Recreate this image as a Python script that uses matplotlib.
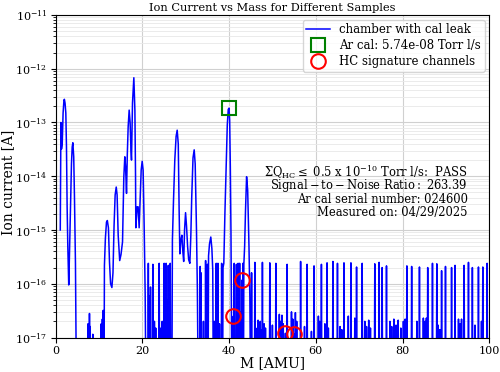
import numpy as np
import matplotlib
matplotlib.use("Agg")
import matplotlib.pyplot as plt

plt.rcParams['font.family'] = 'DejaVu Serif'
plt.rcParams['mathtext.fontset'] = 'dejavuserif'

# smooth parts of the scan: mass [AMU] and ion current [A]
peak_mass = [1.10, 1.25, 1.38, 1.55, 1.75, 1.95, 2.05, 2.20, 2.38, 2.53, 2.68, 2.84,
             3.05, 3.20, 3.45, 3.68, 3.85, 4.00, 4.20, 4.37, 4.60, 4.78,
             11.20, 11.28, 11.50, 11.75, 11.95, 12.20, 12.45, 12.70, 13.00, 13.25,
             13.50, 13.75, 14.00, 14.20, 14.45, 14.80, 15.10, 15.45, 15.75, 15.98,
             16.15, 16.37, 16.55, 16.75, 16.98, 17.20, 17.40, 17.52, 17.75, 18.06,
             18.30, 18.45, 18.52, 18.82, 19.05, 19.28, 19.50, 19.75, 19.98, 20.20,
             20.44, 20.67, 20.80,
             26.85, 26.95, 27.20, 27.50, 27.80, 28.05, 28.30, 28.50, 28.67, 28.90,
             29.13, 29.35, 29.55, 29.75, 29.98, 30.20, 30.45, 30.70, 30.97, 31.20,
             31.40, 31.70, 31.97, 32.20, 32.50, 32.70, 32.85,
             35.20, 35.28, 35.50, 35.80, 36.05, 36.25, 36.35,
             38.55, 38.62, 38.80, 39.05, 39.35, 39.60, 39.82, 40.00, 40.15, 40.30,
             40.45, 40.62,
             43.35, 43.42, 43.60, 43.80, 44.05, 44.30, 44.60, 44.80, 44.92]
peak_current = [1.0e-15, 1.0e-13, 3.2e-14, 4.0e-14, 1.5e-13, 2.6e-13, 2.7e-13, 2.3e-13,
                1.5e-13, 3.5e-14, 2.7e-15, 4.9e-16,
                9.5e-17, 3.0e-16, 2.7e-15, 1.7e-14, 3.5e-14, 4.2e-14, 2.3e-14, 4.2e-15,
                2.4e-16, 3e-18,
                3e-18, 2.2e-16, 7.0e-16, 1.4e-15, 1.5e-15, 1.1e-15, 2.5e-16, 1.0e-16,
                8.5e-17, 1.6e-16,
                1.2e-15, 4.5e-15, 6.3e-15, 4.5e-15, 8.0e-16, 2.7e-16, 3.5e-16, 6.0e-16,
                9.8e-15, 2.3e-14,
                1.5e-14, 4.8e-15, 2.5e-14, 8.3e-14, 1.7e-13, 1.0e-13, 3.0e-14, 2.0e-14,
                2.3e-13, 6.8e-13,
                1.7e-13, 1.0e-14, 1.1e-15, 2.7e-15, 2.7e-15, 1.1e-15, 3.5e-15, 1.3e-14,
                1.9e-14, 1.3e-14,
                1.15e-15, 6.6e-17, 3e-18,
                3e-18, 6.5e-16, 3.5e-15, 2.0e-14, 5.5e-14, 7.2e-14, 4.0e-14, 2.3e-15,
                3.6e-16, 6.5e-16,
                8.0e-16, 4.0e-16, 2.6e-16, 1.0e-15, 2.1e-15, 1.2e-15, 5.0e-16, 2.8e-16,
                2.4e-16, 8.0e-16,
                4.0e-15, 2.2e-14, 3.1e-14, 1.7e-14, 1.0e-15, 8e-17, 3e-18,
                3e-18, 3.3e-16, 5.5e-16, 7.4e-16, 4.5e-16, 1.8e-16, 3e-18,
                3e-18, 2.0e-16, 2.4e-16, 2.0e-15, 1.7e-14, 9.0e-14, 1.75e-13, 1.85e-13,
                1.1e-13, 1.5e-14,
                9e-16, 3e-18,
                3e-18, 2.3e-16, 5.0e-16, 2.3e-15, 9.8e-15, 5.5e-15, 5.0e-16, 5.6e-17, 3e-18]

# narrow noise spikes
spike_mass = [7.50, 7.83, 8.00, 8.60, 10.55, 10.80, 11.00,
              21.40, 21.60, 21.90, 22.45, 22.80, 23.10, 23.90, 24.30, 24.60, 25.05,
              25.50, 25.75, 26.00, 26.45,
              33.35, 33.55, 34.10, 34.60, 34.85, 35.05,
              36.60, 37.05, 37.25, 37.45, 37.80, 38.30,
              41.00, 41.20, 41.70, 42.10, 42.45, 42.70, 43.00, 43.20,
              45.2, 45.96, 47.7, 49.4, 50.8, 53.4, 56.5, 58.0, 59.6, 61.3, 62.6,
              63.95, 65.0, 66.5, 68.1, 69.4, 70.7, 73.6, 74.6, 75.3, 76.3, 81.0,
              82.1, 83.9, 85.8, 86.9, 87.9, 89.0, 89.9, 91.3, 92.1, 94.2, 95.2,
              96.1, 97.5, 98.5, 99.5]
spike_current = [1.8e-17, 2.8e-17, 1.6e-17, 1.15e-17, 1.8e-17, 2.2e-17, 3.2e-17,
                 2.4e-16, 6e-17, 8.7e-17, 2.3e-16, 2e-17, 1.5e-17, 2.4e-16, 1.5e-17,
                 2e-17, 2.4e-16,
                 2.4e-16, 5e-17, 2.2e-16, 2.4e-16,
                 2.1e-16, 1.6e-16, 2e-17, 2.7e-16, 1.2e-16, 2.3e-16,
                 2e-17, 2.4e-16, 1.3e-16, 2.4e-16, 1.8e-17, 2.4e-16,
                 2.5e-17, 2.4e-16, 2.3e-16, 2.4e-16, 2.4e-16, 3e-17, 1.17e-16, 2.4e-16,
                 1.6e-16, 2.5e-16, 2.5e-16, 2.45e-16, 2.4e-16, 2.3e-16, 2.6e-16,
                 2.3e-16, 2.15e-16, 2.3e-16, 2.45e-16,
                 2.6e-16, 2.4e-16, 2.45e-16, 2.45e-16, 2.05e-16, 2.4e-16, 2.35e-16,
                 2.5e-16, 2.0e-16, 2.15e-16, 2.15e-16,
                 2.1e-16, 2.05e-16, 2.0e-16, 2.4e-16, 2.35e-16, 1.75e-16, 2.1e-16,
                 2.0e-16, 2.2e-16, 2.2e-16, 2.5e-16,
                 2.0e-16, 2.05e-16, 2.05e-16, 2.4e-16]

# low level noise above 45 AMU
grass_mass = [46.5, 46.7, 46.9, 47.2, 47.45, 48.1, 48.4, 50.0, 51.6, 51.9, 52.2, 52.5,
              53.0, 54.4, 54.7, 55.0, 55.3, 55.6, 57.4, 59.0, 60.6, 60.9, 62.1, 62.9,
              65.6, 66.0, 67.5, 69.0, 71.3, 71.7, 72.2, 72.6, 77.1, 77.5, 78.0, 78.5,
              79.0, 79.6, 80.2, 80.6, 83.3, 84.8, 85.2, 85.5, 88.2, 88.6, 92.9, 93.3,
              93.6, 96.7, 98.2]
grass_current = [1.5e-17, 2.1e-17, 1.6e-17, 2.0e-17, 1.4e-17, 1.8e-17, 1.5e-17, 1.7e-17,
                 2.7e-17, 2.0e-17, 2.6e-17, 1.8e-17,
                 1.2e-17, 3.0e-17, 2.2e-17, 1.15e-17, 2.9e-17, 2.0e-17, 1.6e-17, 1.3e-17,
                 2.5e-17, 2.0e-17, 1.8e-17, 1.5e-17,
                 1.6e-17, 1.4e-17, 2.5e-17, 2.3e-17, 2.0e-17, 1.6e-17, 2.1e-17, 1.5e-17,
                 2.0e-17, 1.6e-17, 2.2e-17, 1.7e-17,
                 2.1e-17, 1.5e-17, 2.0e-17, 2.2e-17, 2.0e-17, 2.3e-17, 2.0e-17, 2.3e-17,
                 1.7e-17, 1.4e-17, 2.2e-17, 1.8e-17,
                 2.2e-17, 1.7e-17, 2.0e-17]

noise_floor = 3e-18  # below the plotted range

ar_mass = [40]
ar_current = [1.85e-13]
ar_leak = '5.74e-08'

hc_mass = [41, 43, 53, 55]
hc_current = [2.5e-17, 1.17e-16, 1.2e-17, 1.15e-17]

snr = 263.39
serial = '024600'
date = '04/29/2025'

# put spikes on the floor and merge with the smooth parts
nm = np.array(spike_mass + grass_mass)
nc = np.array(spike_current + grass_current)
fl = np.full(len(nm), noise_floor)
mass = np.concatenate([peak_mass, nm - 0.08, nm, nm + 0.08])
current = np.concatenate([peak_current, fl, nc, fl])
order = np.argsort(mass, kind='stable')

fig = plt.figure(figsize=(5, 3.72), dpi=100)
ax = fig.add_axes([0.111, 0.0927, 0.8676, 0.867])

ax.plot(mass[order], current[order], color='blue', lw=1.1, label='chamber with cal leak')
ax.plot(ar_mass, ar_current, 's', mfc='none', mec='green', ms=10.5, mew=1.5,
        label='Ar cal: ' + ar_leak + ' Torr l/s')
ax.plot(hc_mass, hc_current, 'o', mfc='none', mec='red', ms=10.5, mew=1.5,
        label='HC signature channels')

ax.set_yscale('log')
ax.set_xlim(0, 100)
ax.set_ylim(1e-17, 1e-11)
ax.set_xticks([0, 20, 40, 60, 80, 100])
ax.tick_params(labelsize=8, pad=2.5)
ax.grid(True, which='major', color='#d0d0d0', lw=0.8)
ax.grid(True, which='minor', color='#e8e8e8', lw=0.6)
ax.set_axisbelow(True)

ax.set_title('Ion Current vs Mass for Different Samples', fontsize=8.2, pad=3)
ax.set_xlabel('M [AMU]', fontsize=10)
ax.set_ylabel('Ion current [A]', fontsize=10)
ax.xaxis.set_label_coords(0.5, -0.058)
ax.yaxis.set_label_coords(-0.092, 0.48)

ax.legend(loc='upper right', fontsize=8.5, borderaxespad=0.4,
          labelspacing=0.25, borderpad=0.3)

lines = [r'$\mathrm{\Sigma Q_{HC} \leq}$ 0.5 x 10$^{-10}$ Torr l/s:  PASS',
         r'$\mathrm{Signal-to-Noise\ Ratio:}$ ' + '%.2f' % snr,
         'Ar cal serial number: ' + serial,
         'Measured on: ' + date]
for i, s in enumerate(lines):
    ax.text(0.95, 0.514 - i * 0.0425, s, transform=ax.transAxes,
            ha='right', va='center', fontsize=8.3)

fig.savefig('out.png', dpi=100)
